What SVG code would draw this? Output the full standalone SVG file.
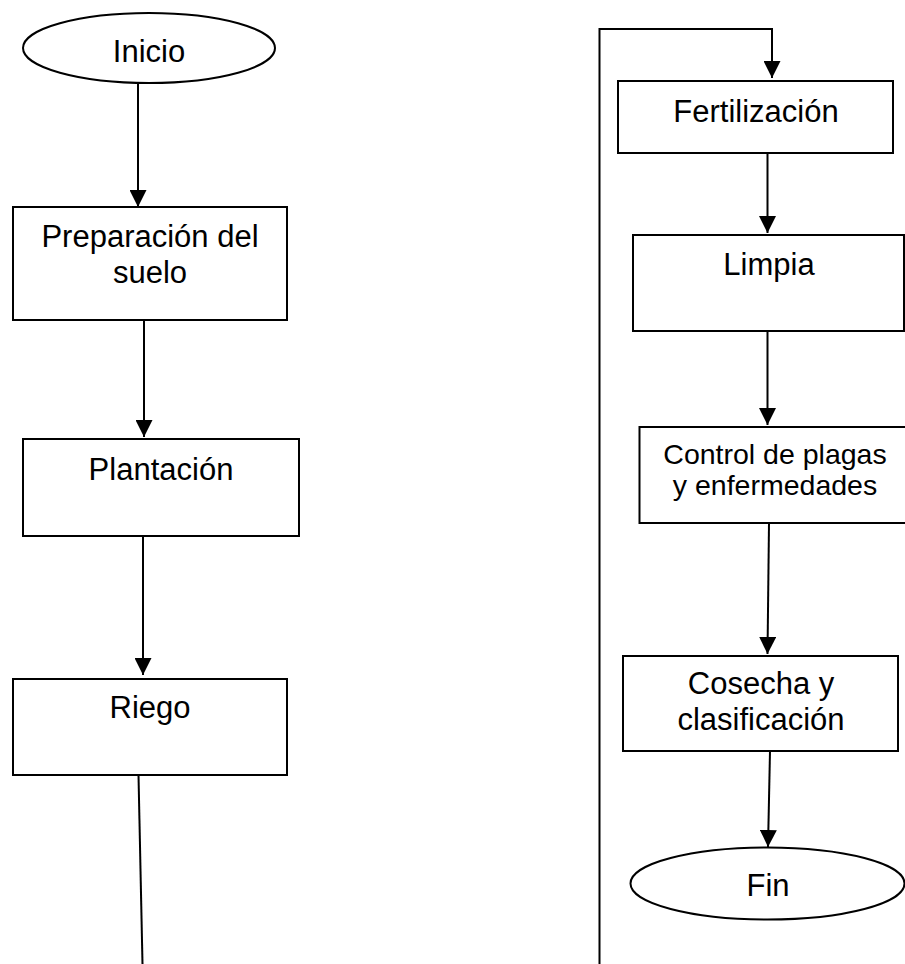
<svg xmlns="http://www.w3.org/2000/svg" width="905" height="964" viewBox="0 0 905 964">
<defs>
<marker id="arr" markerUnits="userSpaceOnUse" markerWidth="17" markerHeight="17" refX="17" refY="8.5" orient="auto">
<path d="M0,0 L17,8.5 L0,17 Z" fill="#000"/>
</marker>
<style>
.shape{fill:#fff;stroke:#000;stroke-width:2}
.t{font-family:"Liberation Sans",Arial,sans-serif;font-size:31px;fill:#000;text-anchor:middle}
.s{font-size:28.5px}
.c{fill:none;stroke:#000;stroke-width:2;marker-end:url(#arr)}
.l{fill:none;stroke:#000;stroke-width:2}
</style>
</defs>
<rect width="905" height="964" fill="#fff"/>
<g id="connectors">
<line class="c" x1="138" y1="83" x2="138" y2="207"/>
<line class="c" x1="144" y1="320" x2="144" y2="437"/>
<line class="c" x1="143" y1="536" x2="143" y2="675"/>
<line class="l" x1="138.5" y1="775" x2="142.5" y2="964"/>
<polyline class="c" points="599.5,964 599.5,29 772,29 772,78"/>
<line class="c" x1="767.5" y1="153" x2="767.5" y2="233"/>
<line class="c" x1="767.5" y1="331" x2="767.5" y2="425"/>
<line class="c" x1="769" y1="523" x2="767.5" y2="654"/>
<line class="c" x1="770" y1="751" x2="768" y2="847"/>
</g>
<g id="inicio">
<ellipse class="shape" cx="149" cy="48" rx="126" ry="35"/>
<text class="t" x="149" y="62">Inicio</text>
</g>
<g id="preparacion">
<rect class="shape" x="13" y="207" width="274" height="113"/>
<text class="t" x="150" y="247">Preparación del</text>
<text class="t" x="150" y="283">suelo</text>
</g>
<g id="plantacion">
<rect class="shape" x="23" y="439" width="276" height="97"/>
<text class="t" x="161" y="480">Plantación</text>
</g>
<g id="riego">
<rect class="shape" x="13" y="679" width="274" height="96"/>
<text class="t" x="150" y="718">Riego</text>
</g>
<g id="fertilizacion">
<rect class="shape" x="618" y="81" width="275" height="72"/>
<text class="t" x="756" y="122">Fertilización</text>
</g>
<g id="limpia">
<rect class="shape" x="633" y="235" width="271" height="96"/>
<text class="t" x="769" y="275">Limpia</text>
</g>
<g id="control">
<rect class="shape" x="639.5" y="427" width="280" height="96"/>
<text class="t s" x="775" y="464">Control de plagas</text>
<text class="t s" x="775" y="495">y enfermedades</text>
</g>
<g id="cosecha">
<rect class="shape" x="623" y="656" width="275" height="95"/>
<text class="t" x="761" y="694">Cosecha y</text>
<text class="t" x="761" y="730">clasificación</text>
</g>
<g id="fin">
<ellipse class="shape" cx="767.5" cy="883.5" rx="137" ry="36"/>
<text class="t" x="768" y="896">Fin</text>
</g>
</svg>
